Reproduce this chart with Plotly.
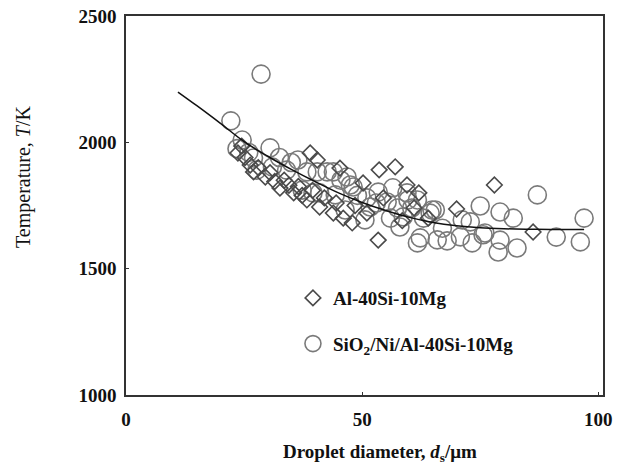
import plotly.graph_objects as go

# Al-40Si-10Mg (diamonds)
al_x = [23.7, 24.5, 25.2, 26.3, 27.0, 28.0, 29.5, 30.5, 31.5, 32.6, 33.5, 34.5, 35.5, 36.5,
        37.3, 38.3, 39.0, 39.5, 40.5, 41.0, 42.0, 43.9, 44.5, 45.3, 46.0, 47.9, 48.5, 50.2,
        51.0, 53.4, 53.6, 54.5, 57.0, 58.5, 59.5, 61.0, 62.0, 64.0, 70.0, 78.0, 86.2]
al_y = [1958, 1985, 1940, 1910, 1883, 1900, 1863, 1880, 1845, 1819, 1850, 1830, 1800, 1825,
        1790, 1772, 1958, 1810, 1930, 1744, 1780, 1720, 1760, 1898, 1700, 1681, 1750, 1839,
        1720, 1613, 1891, 1780, 1903, 1690, 1831, 1740, 1800, 1700, 1736, 1831, 1645]

# SiO2/Ni/Al-40Si-10Mg (circles)
si_x = [28.6, 22.2, 24.6, 23.5, 26.0, 27.0, 27.7, 30.5, 31.0, 32.5, 34.0, 35.0, 36.4, 37.3,
        38.3, 39.6, 40.5, 41.0, 42.6, 43.9, 44.3, 45.5, 46.4, 46.8, 47.5, 48.1, 49.0, 50.6,
        51.0, 51.7, 53.4, 53.0, 55.3, 56.0, 56.5, 57.5, 58.7, 58.0, 59.5, 59.7, 60.5, 61.7,
        61.7, 62.3, 63.0, 64.4, 64.8, 65.5, 65.9, 67.0, 68.0, 70.8, 71.2, 72.9, 73.3, 75.0,
        75.6, 76.0, 79.2, 79.2, 78.8, 82.0, 82.8, 87.1, 91.1, 96.2, 97.0]
si_y = [2270, 2085, 2009, 1975, 1960, 1938, 1890, 1978, 1902, 1940, 1890, 1920, 1930, 1811,
        1883, 1800, 1883, 1800, 1883, 1883, 1792, 1850, 1732, 1863, 1831, 1823, 1790, 1693,
        1780, 1744, 1803, 1760, 1764, 1700, 1820, 1740, 1705, 1665, 1800, 1772, 1740, 1602,
        1772, 1622, 1700, 1720, 1732, 1732, 1614, 1660, 1610, 1626, 1693, 1685, 1602, 1748,
        1634, 1641, 1724, 1613, 1566, 1700, 1582, 1792, 1625, 1606, 1700]

# trend curve
fit_x = [11, 15, 20, 25, 30, 35, 40, 45, 50, 55, 60, 65, 70, 75, 80, 85, 90, 97]
fit_y = [2199, 2145, 2075, 2003, 1945, 1893, 1845, 1800, 1762, 1730, 1703, 1683, 1670,
         1662, 1658, 1656, 1655, 1655]

x_ticks = [0, 50, 100]
y_ticks = [1000, 1500, 2000, 2500]

FONT = "Liberation Serif"

fig = go.Figure()
fig.add_trace(go.Scatter(
    x=si_x, y=si_y, mode="markers", name="SiO<sub>2</sub>/Ni/Al-40Si-10Mg",
    marker=dict(symbol="circle-open", size=18, color="#7a7a7a", line=dict(width=1.6)),
    legendgroup="b", legendrank=2))
fig.add_trace(go.Scatter(
    x=al_x, y=al_y, mode="markers", name="Al-40Si-10Mg",
    marker=dict(symbol="diamond-open", size=12, color="#4a4a4a", line=dict(width=1.6)),
    legendgroup="a", legendrank=1))
fig.add_trace(go.Scatter(
    x=fit_x, y=fit_y, mode="lines", line=dict(color="#111111", width=1.5, shape="spline"),
    showlegend=False))

axis_common = dict(showline=True, linecolor="#333333", linewidth=1.5, mirror=True,
                   ticks="inside", ticklen=3, tickcolor="#333333", showgrid=False,
                   zeroline=False, ticklabeloverflow="allow", automargin=False,
                   tickfont=dict(family=FONT, size=19, color="#111111", weight="bold"))

fig.update_layout(
    width=630, height=468,
    margin=dict(l=126, r=27, t=16, b=73),
    paper_bgcolor="white", plot_bgcolor="white",
    xaxis=dict(range=[0, 101], tickvals=x_ticks, ticklabelstandoff=6, **axis_common),
    yaxis=dict(range=[1000, 2500], tickvals=y_ticks, ticklabelstandoff=4, **axis_common),
    legend=dict(x=0.35, y=0.306, xanchor="left", yanchor="top",
                traceorder="grouped", tracegroupgap=18,
                bgcolor="rgba(0,0,0,0)",
                font=dict(family=FONT, size=19, color="#111111", weight="bold")),
    annotations=[
        dict(text="Droplet diameter, <i>d</i><sub>s</sub>/μm", xref="paper", yref="paper",
             x=(380 - 126) / 477, y=(395 - 453) / 379, xanchor="center", yanchor="middle",
             showarrow=False,
             font=dict(family=FONT, size=19, color="#111111", weight="bold")),
        dict(text="Temperature, <i>T</i>/K", xref="paper", yref="paper",
             x=(23 - 126) / 477, y=(395 - 177) / 379, xanchor="center", yanchor="middle",
             textangle=-90, showarrow=False,
             font=dict(family=FONT, size=20, color="#111111")),
    ],
)

# remove the page's default 8px body margin so the figure fills the window exactly
fig.write_html("out.html", config={"displayModeBar": False},
               post_script="document.body.style.margin='0';")
